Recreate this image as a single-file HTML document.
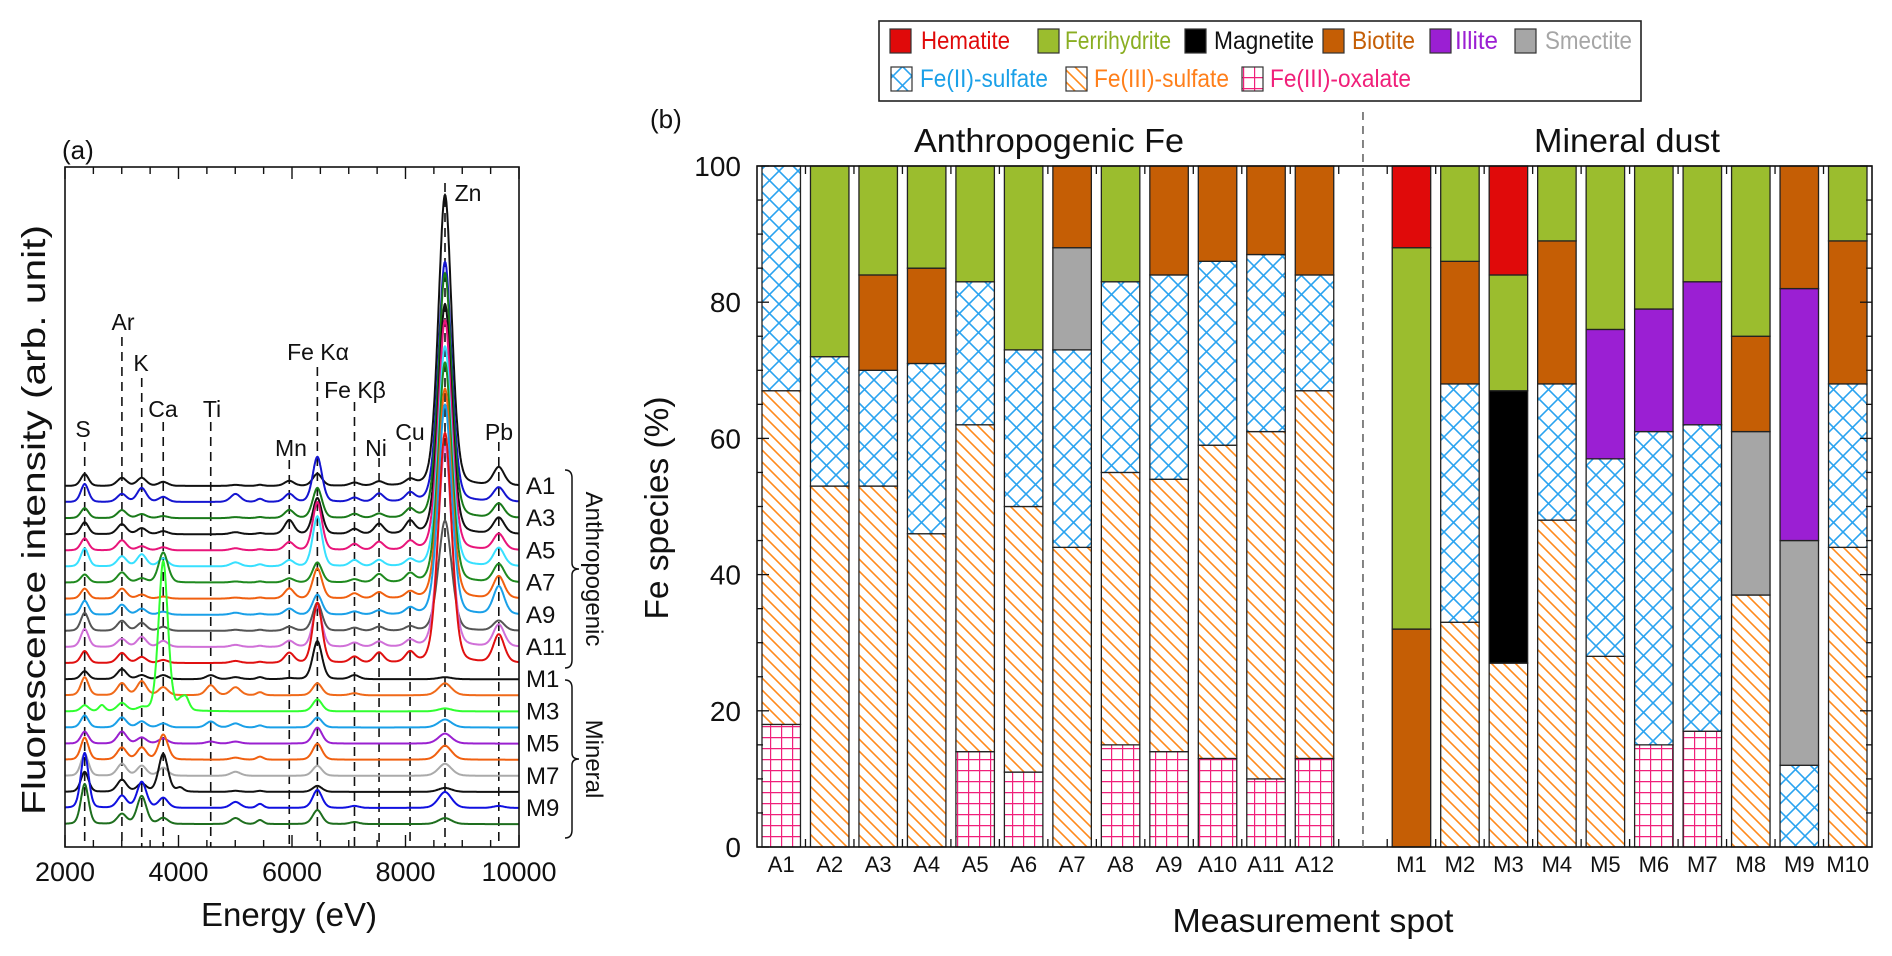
<!DOCTYPE html>
<html><head><meta charset="utf-8"><style>
html,body{margin:0;padding:0;background:#fff;}
svg{display:block;font-family:"Liberation Sans",Arial,sans-serif;}
</style></head><body>
<svg id="fig" width="1892" height="956" viewBox="0 0 1892 956" xmlns="http://www.w3.org/2000/svg">
<defs>
<pattern id="pFe2" patternUnits="userSpaceOnUse" width="19" height="19"><rect width="19" height="19" fill="#fff"/><path d="M0,0L19,19M19,0L0,19" stroke="#2aa3f0" stroke-width="1.6"/></pattern>
<pattern id="pFe3" patternUnits="userSpaceOnUse" width="12" height="12"><rect width="12" height="12" fill="#fff"/><path d="M-3,-3L15,15M-3,9L3,15M9,-3L15,3" stroke="#ff8a1c" stroke-width="1.6"/></pattern>
<pattern id="pOx" patternUnits="userSpaceOnUse" width="11" height="11"><rect width="11" height="11" fill="#fff"/><path d="M0,0.5H11M0.5,0V11" stroke="#f0207a" stroke-width="1.4"/></pattern>
</defs>
<g id="panelA"></g>
<g id="panelB"></g>
</svg>
<script>
// ---------- Panel (a) data ----------
const peakNames = ["S","Ar","K","Ca","Ti","X1","X2","Mn","FeKa","FeKb","Ni","Cu","Zn","Pb","Y1","Y2","Z1"];
const peakEnergies = [2347,3003,3352,3731,4568,5005,5436,5952,6447,7101,7534,8080,8696,9644,4030,4130,2650];
const peakSigmas = [70,85,85,85,85,90,60,85,85,85,85,85,120,100,60,60,55];
const traceNames = ["A1","A2","A3","A4","A5","A6","A7","A8","A9","A10","A11","A12","M1","M2","M3","M4","M5","M6","M7","M8","M9","M10"];
const traceColors = ["#111","#1515d0","#1a7a1a","#111","#e8157a","#38e0ff","#1f8a1f","#f06010","#1aa0e8","#555","#d070d8","#e01010","#111","#f06a1a","#30ff30","#1aa0e8","#9a20d0","#f06010","#aaaaaa","#111","#1010e0","#1e6e1e"];
const ampA1 = [12,8,8,4,0,1,1,5,12,3,4,5,291,18,0,0,0];
const ampA2 = [18,8,14,5,0,8,3,8,45,4,8,8,240,14,0,0,0];
const ampA3 = [10,8,4,2,0,1,1,8,30,4,4,8,245,14,0,0,0];
const ampA4 = [12,10,6,3,0,2,1,14,36,5,10,12,230,16,0,0,0];
const ampA5 = [12,10,4,3,0,2,1,8,48,6,8,8,230,16,0,0,0];
const ampA6 = [18,10,12,8,0,4,2,6,50,6,6,6,220,18,0,0,0];
const ampA7 = [8,10,4,30,0,1,1,4,20,3,8,8,220,18,0,0,0];
const ampA8 = [10,10,4,2,0,1,1,10,30,5,6,6,210,22,0,0,0];
const ampA9 = [14,10,6,3,0,2,1,6,20,3,4,6,210,28,0,0,0];
const ampA10 = [18,10,8,4,0,1,1,4,28,3,4,4,110,10,0,0,0];
const ampA11 = [18,8,10,6,0,2,1,6,40,4,5,6,200,22,0,0,0];
const ampA12 = [12,10,6,3,0,2,1,10,60,6,10,10,230,28,0,0,0];
const ampM1 = [8,10,4,4,4,2,2,1,38,4,0,0,2,0,0,0,0];
const ampM2 = [18,12,14,8,10,8,3,0,12,2,0,0,12,0,0,0,0];
const ampM3 = [6,8,3,150,0,0,0,0,12,0,0,0,3,0,8,12,6];
const ampM4 = [12,10,6,4,6,4,2,0,10,0,0,0,8,0,0,0,0];
const ampM5 = [12,12,6,5,2,2,0,0,16,0,0,0,10,0,0,0,0];
const ampM6 = [22,12,12,25,0,2,3,0,16,0,0,0,14,0,0,0,0];
const ampM7 = [22,12,10,8,0,4,0,0,10,0,0,0,12,0,0,0,0];
const ampM8 = [20,12,8,38,0,1,1,0,6,0,0,0,4,0,4,0,0];
const ampM9 = [55,12,26,10,0,6,4,0,18,2,0,0,16,2,0,0,0];
const ampM10 = [40,10,28,6,0,6,4,0,14,2,0,0,6,0,0,0,0];
const traceAmps = [ampA1,ampA2,ampA3,ampA4,ampA5,ampA6,ampA7,ampA8,ampA9,ampA10,ampA11,ampA12,ampM1,ampM2,ampM3,ampM4,ampM5,ampM6,ampM7,ampM8,ampM9,ampM10];
const xTicksA = [2000,4000,6000,8000,10000];
const lineLabels = ["S","Ar","K","Ca","Ti","Mn","Fe Kα","Fe Kβ","Ni","Cu","Zn","Pb"];
const lineEnergies = [2347,3003,3352,3731,4568,5952,6447,7101,7534,8080,8696,9644];

// ---------- Panel (b) data ----------
const spots = ["A1","A2","A3","A4","A5","A6","A7","A8","A9","A10","A11","A12","","M1","M2","M3","M4","M5","M6","M7","M8","M9","M10"];
const oxalate    = [18,0,0,0,14,11,0,15,14,13,10,13, 0, 0,0,0,0,0,15,17,0,0,0];
const fe3sulfate = [49,53,53,46,48,39,44,40,40,46,51,54, 0, 0,33,27,48,28,0,0,37,0,44];
const fe2sulfate = [33,19,17,25,21,23,29,28,30,27,26,17, 0, 0,35,0,20,29,46,45,0,12,24];
const magnetite  = [0,0,0,0,0,0,0,0,0,0,0,0, 0, 0,0,40,0,0,0,0,0,0,0];
const smectite   = [0,0,0,0,0,0,15,0,0,0,0,0, 0, 0,0,0,0,0,0,0,24,33,0];
const illite     = [0,0,0,0,0,0,0,0,0,0,0,0, 0, 0,0,0,0,19,18,21,0,37,0];
const biotite    = [0,0,14,14,0,0,12,0,16,14,13,16, 0, 32,18,0,21,0,0,0,14,18,21];
const ferrihydrite=[0,28,16,15,17,27,0,17,0,0,0,0, 0, 56,14,17,11,24,21,17,25,0,11];
const hematite   = [0,0,0,0,0,0,0,0,0,0,0,0, 0, 12,0,16,0,0,0,0,0,0,0];
const yTicksB = [0,20,40,60,80,100];

const NS="http://www.w3.org/2000/svg";
function mk(tag, attrs, parent, text){const e=document.createElementNS(NS,tag);for(const k in attrs)e.setAttribute(k,attrs[k]);if(text!==undefined)e.textContent=text;parent.appendChild(e);return e;}

// ===== Panel A =====
const gA=document.getElementById('panelA');
const aL=65,aR=519,aT=167,aB=847;
const xA=e=>aL+(e-2000)/8000*(aR-aL);
const base0=486, baseStep=16.1;
const dashTops=[442,337,378,422,422,460,367,402,458,442,183,442];
lineEnergies.forEach((en,i)=>{
  const l=mk('line',{x1:xA(en),x2:xA(en),y1:dashTops[i],y2:aB,stroke:'#111','stroke-width':1.6,'stroke-dasharray':'9,6'},gA);
  
  
});
traceAmps.forEach((amps,i)=>{
  const b=base0+i*baseStep;
  let d='';
  for(let en=2000;en<=10000;en+=8){
    let y=b;
    for(let k=0;k<peakEnergies.length;k++){
      if(!amps[k])continue;
      const z=(en-peakEnergies[k])/peakSigmas[k];
      y-=amps[k]*(0.75*Math.exp(-0.5*z*z)+0.25/(1+z*z));
    }
    d+=(en===2000?'M':'L')+xA(en).toFixed(1)+','+y.toFixed(1);
  }
  const p=mk('path',{d:d,fill:'none',stroke:traceColors[i],'stroke-width':2},gA);
  
  
  if(i%2===0){
    const t=mk('text',{x:526,y:b+8,'font-size':24,fill:'#111'},gA,traceNames[i]);
    
    
  }
});
const labPos=[[83,429],[123,322],[141,363],[163,409],[212,409],[291,448],[318,352],[355,390],[376,448],[410,432],[468,193],[499,432]];
lineLabels.forEach((s,i)=>{
  const t=mk('text',{x:labPos[i][0],y:labPos[i][1]+8,'font-size':23,'text-anchor':'middle',fill:'#111'},gA,s);
  
  
});
const fa=mk('rect',{x:aL,y:aT,width:aR-aL,height:aB-aT,fill:'none',stroke:'#111','stroke-width':1.6},gA);


for(let en=2000;en<=10000;en+=500){
  const major=en%2000===0, len=major?12:7;
  mk('line',{x1:xA(en),x2:xA(en),y1:aB,y2:aB-len,stroke:'#111','stroke-width':1.4},gA);
  mk('line',{x1:xA(en),x2:xA(en),y1:aT,y2:aT+len,stroke:'#111','stroke-width':1.4},gA);
}
xTicksA.forEach(v=>{
  const t=mk('text',{x:xA(v),y:881,'font-size':27,'text-anchor':'middle',fill:'#111'},gA,String(v));
  
  
});
let t;
t=mk('text',{x:289,y:926,'font-size':33,'text-anchor':'middle',fill:'#111'},gA,'Energy (eV)');


t=mk('text',{x:0,y:0,'font-size':33,'text-anchor':'middle',fill:'#111',transform:'translate(45,520) rotate(-90)',textLength:590,lengthAdjust:'spacingAndGlyphs'},gA,'Fluorescence intensity (arb. unit)');


t=mk('text',{x:62,y:159,'font-size':26,fill:'#111'},gA,'(a)');


function brace(x,y1,y2,name){
  const m=(y1+y2)/2;
  const p=mk('path',{d:`M${x-7},${y1} Q${x},${y1} ${x},${y1+8} L${x},${m-6} Q${x},${m} ${x+7},${m} Q${x},${m} ${x},${m+6} L${x},${y2-8} Q${x},${y2} ${x-7},${y2}`,fill:'none',stroke:'#111','stroke-width':1.5},gA);
  
  
}
brace(572,470,668,'brace-anthropogenic');
brace(572,680,838,'brace-mineral');
t=mk('text',{x:0,y:0,'font-size':24,'text-anchor':'middle',fill:'#111',transform:'translate(586,569) rotate(90)'},gA,'Anthropogenic');


t=mk('text',{x:0,y:0,'font-size':24,'text-anchor':'middle',fill:'#111',transform:'translate(586,759) rotate(90)'},gA,'Mineral');



// ===== Panel B =====
const gB=document.getElementById('panelB');
const bL=757,bR=1872,bT=166,bB=847;
const slotW=(bR-bL)/spots.length;
const yB=v=>bB-v/100*(bB-bT);
const species=[
 ['fe-iii-oxalate',oxalate,'url(#pOx)'],
 ['fe-iii-sulfate',fe3sulfate,'url(#pFe3)'],
 ['fe-ii-sulfate',fe2sulfate,'url(#pFe2)'],
 ['magnetite',magnetite,'#000000'],
 ['smectite',smectite,'#a6a6a6'],
 ['illite',illite,'#9b1fd3'],
 ['biotite',biotite,'#c55e05'],
 ['ferrihydrite',ferrihydrite,'#9bbd2e'],
 ['hematite',hematite,'#e00a0a']];
spots.forEach((s,i)=>{
  if(!s)return;
  const x=bL+i*slotW+5, w=slotW-10;
  let cum=0;
  species.forEach(sp=>{
    const v=sp[1][i];
    if(!v)return;
    const r=mk('rect',{x:x,y:yB(cum+v),width:w,height:yB(cum)-yB(cum+v),fill:sp[2],stroke:'#222','stroke-width':1.3},gB);
    
    
    cum+=v;
  });
  const lab=mk('text',{x:bL+(i+0.5)*slotW,y:872,'font-size':22,'text-anchor':'middle',fill:'#111'},gB,s);
  
  
});
const fb=mk('rect',{x:bL,y:bT,width:bR-bL,height:bB-bT,fill:'none',stroke:'#111','stroke-width':1.6},gB);


for(let k=1;k<spots.length;k++){
  const x=bL+k*slotW;
  mk('line',{x1:x,x2:x,y1:bT,y2:bT+8,stroke:'#111','stroke-width':1.3},gB);
  mk('line',{x1:x,x2:x,y1:bB,y2:bB-8,stroke:'#111','stroke-width':1.3},gB);
}
for(let v=0;v<=100;v+=5){
  const len=v%20===0?12:6;
  mk('line',{x1:bL,x2:bL+len,y1:yB(v),y2:yB(v),stroke:'#111','stroke-width':1.3},gB);
  mk('line',{x1:bR,x2:bR-len,y1:yB(v),y2:yB(v),stroke:'#111','stroke-width':1.3},gB);
}
yTicksB.forEach(v=>{
  const tt=mk('text',{x:741,y:yB(v)+10,'font-size':28,'text-anchor':'end',fill:'#111'},gB,String(v));
  
  
});
const dl=mk('line',{x1:bL+12.5*slotW,x2:bL+12.5*slotW,y1:112,y2:bB,stroke:'#666','stroke-width':1.6,'stroke-dasharray':'8,6'},gB);


t=mk('text',{x:1049,y:152,'font-size':33,'text-anchor':'middle',fill:'#111',textLength:270,lengthAdjust:'spacingAndGlyphs'},gB,'Anthropogenic Fe');


t=mk('text',{x:1627,y:152,'font-size':33,'text-anchor':'middle',fill:'#111',textLength:186,lengthAdjust:'spacingAndGlyphs'},gB,'Mineral dust');


t=mk('text',{x:1313,y:932,'font-size':33,'text-anchor':'middle',fill:'#111',textLength:281,lengthAdjust:'spacingAndGlyphs'},gB,'Measurement spot');


t=mk('text',{x:0,y:0,'font-size':33,'text-anchor':'middle',fill:'#111',transform:'translate(668,508) rotate(-90)',textLength:223,lengthAdjust:'spacingAndGlyphs'},gB,'Fe species (%)');


t=mk('text',{x:650,y:128,'font-size':26,fill:'#111'},gB,'(b)');



// legend
const gL=mk('g',{},gB);


mk('rect',{x:879,y:21,width:762,height:80,fill:'#fff',stroke:'#222','stroke-width':1.6},gL);
const legendItems=[
 ['Hematite','#e00a0a','#e00a0a',890,921,89,29],
 ['Ferrihydrite','#9bbd2e','#8aae22',1038,1065,106,29],
 ['Magnetite','#000','#111',1185,1214,100,29],
 ['Biotite','#c55e05','#c55e05',1323,1352,63,29],
 ['Illite','#9b1fd3','#9b1fd3',1430,1455,43,29],
 ['Smectite','#a6a6a6','#a6a6a6',1515,1545,87,29],
 ['Fe(II)-sulfate','url(#pFe2)','#1aa0e8',891,920,128,67],
 ['Fe(III)-sulfate','url(#pFe3)','#ff7f1a',1066,1094,135,67],
 ['Fe(III)-oxalate','url(#pOx)','#f0207a',1242,1270,141,67]];
legendItems.forEach(it=>{
  const sw=mk('rect',{x:it[3],y:it[6],width:21,height:24,fill:it[1],stroke:'#333','stroke-width':1.2},gL);
  
  
  const tx=mk('text',{x:it[4],y:it[6]+20,'font-size':25,fill:it[2],textLength:it[5],lengthAdjust:'spacingAndGlyphs'},gL,it[0]);
  
  
});
</script>
</body></html>
